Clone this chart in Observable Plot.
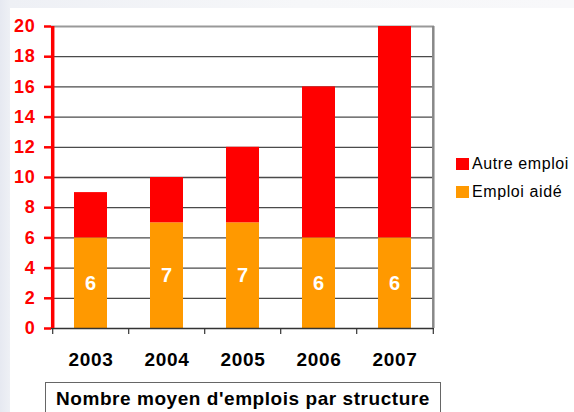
<!DOCTYPE html>
<html>
<head>
<meta charset="utf-8">
<script src="https://cdn.jsdelivr.net/npm/d3@7"></script>
<script src="https://cdn.jsdelivr.net/npm/@observablehq/plot@0.6"></script>
<style>
  html, body { margin: 0; padding: 0; }
  body {
    width: 574px; height: 412px; overflow: hidden; position: relative;
    background: linear-gradient(90deg, #e6e9f1 0px, #eef0f5 10px, #f6f7f9 300px, #f8f8fa 574px);
    font-family: "Liberation Sans", Arial, sans-serif;
  }
  #panel { position: absolute; left: 10px; top: 8px; width: 564px; height: 404px; background: #fff; }
  #chart { position: absolute; left: 0; top: 0; }
  #chart svg text { letter-spacing: 0.7px; }
  #legend { position: absolute; left: 456px; top: 150px; font-size: 16px; color: #000; }
  #legend .item { display: flex; align-items: center; height: 28px; }
  #legend .sw { width: 13px; height: 12px; margin-right: 3px; }
  #legend span { letter-spacing: 0.6px; }
  #title {
    position: absolute; left: 45px; top: 382px; width: 396px; height: 40px;
    border: 1px solid #666; box-sizing: border-box; background: #fff;
    font-weight: bold; font-size: 19px; color: #000; text-align: center;
    line-height: 31px; letter-spacing: 0.55px; white-space: nowrap;
  }
</style>
</head>
<body>
<div id="panel"></div>
<div id="chart"></div>
<div id="legend"></div>
<div id="title">Nombre moyen d'emplois par structure</div>
<script>
const years = ["2003", "2004", "2005", "2006", "2007"];
const emploiAide = [6, 7, 7, 6, 6];
const autreEmploi = [3, 3, 5, 10, 14];
const seriesNames = ["Autre emploi", "Emploi aidé"];
const seriesColors = ["#ff0000", "#ff9900"];
const yTicks = [0, 2, 4, 6, 8, 10, 12, 14, 16, 18, 20];

const data = [];
years.forEach((y, i) => {
  data.push({year: y, series: "Emploi aidé", value: emploiAide[i]});
  data.push({year: y, series: "Autre emploi", value: autreEmploi[i]});
});
const aideData = data.filter(d => d.series === "Emploi aidé");

const W = 574, H = 412, mL = 51, mR = 140, mT = 26, mB = 84;
const step = (W - mL - mR) / years.length;

const chart = Plot.plot({
  width: W, height: H,
  marginLeft: mL, marginRight: mR, marginTop: mT, marginBottom: mB,
  style: {background: "transparent", fontFamily: "Liberation Sans, Arial, sans-serif"},
  x: {domain: years, paddingInner: 0.57, paddingOuter: 0.285, axis: null, label: null},
  y: {domain: [0, 20], axis: null, label: null},
  color: {domain: seriesNames, range: seriesColors},
  marks: [
    Plot.ruleY(yTicks.filter(t => t > 0 && t < 20), {y: d => d, stroke: "#4a4a4a", strokeWidth: 1.3}),
    Plot.ruleY([20], {y: d => d, stroke: "#999", strokeWidth: 2.2}),
    Plot.barY(data, {
      x: "year", y: "value", fill: "series",
      order: ["Emploi aidé", "Autre emploi"]
    }),
    Plot.text(aideData, Plot.stackY({
      x: "year", y: "value", text: d => String(d.value),
      fill: "#fff", fontWeight: "bold", fontSize: 20
    })),
    Plot.ruleY([0], {y: d => d, stroke: "#333", strokeWidth: 1.5}),
    Plot.ruleX([years[years.length - 1]], {x: d => d, dx: step / 2, y1: 0, y2: 20, stroke: "#888", strokeWidth: 2.5}),
    Plot.axisX({ticks: years, tickSize: 6, text: null, label: null, dx: -step / 2, stroke: "#333", strokeWidth: 1.2}),
    Plot.axisX({ticks: [years[years.length - 1]], tickSize: 6, text: null, label: null, dx: step / 2, stroke: "#333", strokeWidth: 1.2}),
    Plot.axisX({ticks: years, tickSize: 0, tickPadding: 24, label: null, fontSize: 19, fontWeight: "bold", fill: "#000"}),
    Plot.axisY({ticks: yTicks, tickSize: 7, tickPadding: 9, label: null, stroke: "#ff0000", strokeWidth: 2.5, fill: "#ff0000", fontSize: 18, fontWeight: "bold"}),
    Plot.ruleX([years[0]], {x: d => d, dx: -step / 2, y1: 0, y2: 20, stroke: "#ff0000", strokeWidth: 3.5})
  ]
});
document.getElementById("chart").appendChild(chart);

const legend = document.getElementById("legend");
seriesNames.forEach((name, i) => {
  const item = document.createElement("div");
  item.className = "item";
  const sw = document.createElement("div");
  sw.className = "sw";
  sw.style.background = seriesColors[i];
  const label = document.createElement("span");
  label.textContent = name;
  item.appendChild(sw);
  item.appendChild(label);
  legend.appendChild(item);
});
</script>
</body>
</html>
